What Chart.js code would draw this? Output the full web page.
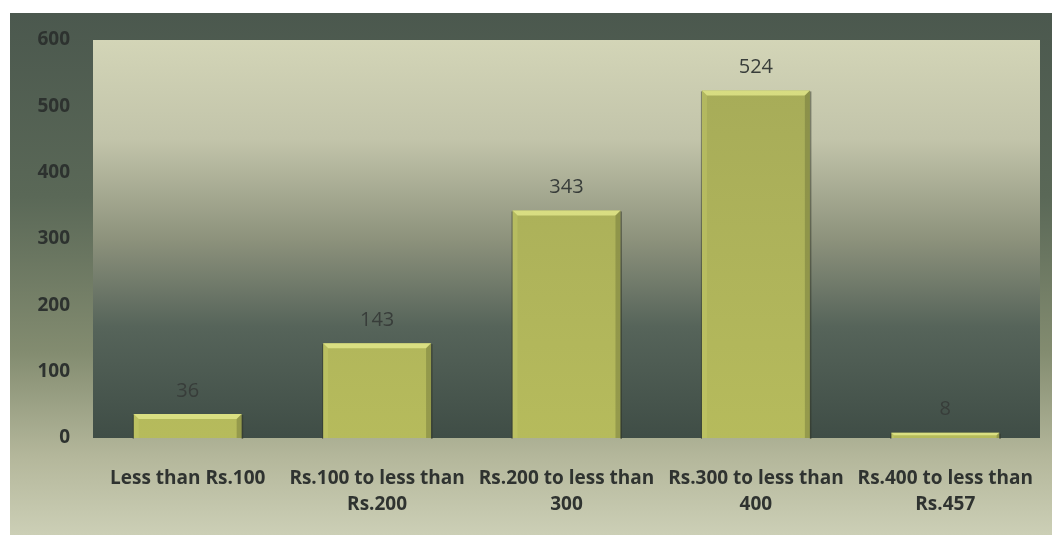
<!DOCTYPE html>
<html>
<head>
<meta charset="utf-8">
<title>Distribution by amount</title>
<script src="https://cdn.jsdelivr.net/npm/chart.js@4.4.1/dist/chart.umd.min.js"></script>
<style>
  html, body { margin: 0; padding: 0; background: #ffffff; }
  #wrap { width: 1052px; height: 535px; }
</style>
</head>
<body>
<div id="wrap"><canvas id="amountChart" width="1052" height="535"></canvas></div>
<script>
// categories and counts
const categories = [
    ['Less than Rs.100'],
    ['Rs.100 to less than', 'Rs.200'],
    ['Rs.200 to less than', '300'],
    ['Rs.300 to less than', '400'],
    ['Rs.400 to less than', 'Rs.457']
];
const counts = [36, 143, 343, 524, 8];
const yTicks = [0, 100, 200, 300, 400, 500, 600];

const FONT = '"Open Sans", Lato, sans-serif';

// backdrop: outer frame + plot area gradients
const backdrop = {
    id: 'backdrop',
    beforeDraw(chart) {
        const { ctx, chartArea: a, width, height } = chart;
        ctx.save();
        const fx = 10, fy = 13;
        const outer = ctx.createLinearGradient(0, fy, 0, height);
        outer.addColorStop(0, '#4b584e');
        outer.addColorStop(0.35, '#5a6857');
        outer.addColorStop(0.65, '#838c70');
        outer.addColorStop(0.85, '#b4b79b');
        outer.addColorStop(1, '#cccfb6');
        ctx.fillStyle = outer;
        ctx.fillRect(fx, fy, width - fx, height - fy);

        const inner = ctx.createLinearGradient(0, a.top, 0, a.bottom);
        inner.addColorStop(0, '#d3d5b7');
        inner.addColorStop(0.25, '#c2c4aa');
        inner.addColorStop(0.5, '#8d927c');
        inner.addColorStop(0.72, '#56645a');
        inner.addColorStop(1, '#3f4d46');
        ctx.fillStyle = inner;
        ctx.fillRect(a.left, a.top, a.right - a.left, a.bottom - a.top);
        ctx.restore();
    }
};

// bevel highlights on each bar and the value above it
const barDecor = {
    id: 'barDecor',
    afterDatasetsDraw(chart) {
        const { ctx } = chart;
        const meta = chart.getDatasetMeta(0);
        ctx.save();
        meta.data.forEach((bar, i) => {
            const l = bar.x - bar.width / 2, r = bar.x + bar.width / 2;
            const t = bar.y, b = bar.base;
            const h = b - t;
            const bev = Math.min(5, h / 2);
            // top bevel
            ctx.fillStyle = 'rgba(228, 232, 140, 0.8)';
            ctx.beginPath();
            ctx.moveTo(l, t); ctx.lineTo(r, t);
            ctx.lineTo(r - bev, t + bev); ctx.lineTo(l + bev, t + bev);
            ctx.closePath(); ctx.fill();
            // left bevel
            ctx.fillStyle = 'rgba(200, 205, 110, 0.35)';
            ctx.beginPath();
            ctx.moveTo(l, t); ctx.lineTo(l + bev, t + bev);
            ctx.lineTo(l + bev, b); ctx.lineTo(l, b);
            ctx.closePath(); ctx.fill();
            // right bevel
            ctx.fillStyle = 'rgba(90, 95, 45, 0.35)';
            ctx.beginPath();
            ctx.moveTo(r, t); ctx.lineTo(r - bev, t + bev);
            ctx.lineTo(r - bev, b); ctx.lineTo(r, b);
            ctx.closePath(); ctx.fill();
            // thin dark outline at the sides
            ctx.fillStyle = 'rgba(45, 50, 35, 0.5)';
            ctx.fillRect(r, t + 1, 1.5, h);
            ctx.fillRect(l - 1, t + 1, 1, h);

            ctx.fillStyle = '#383d3a';
            ctx.font = '20px ' + FONT;
            ctx.textAlign = 'center';
            ctx.textBaseline = 'bottom';
            ctx.fillText(String(counts[i]), bar.x, t - 13);
        });
        ctx.restore();
    }
};

const chart = new Chart(document.getElementById('amountChart'), {
    type: 'bar',
    data: {
        labels: categories,
        datasets: [{
            data: counts,
            backgroundColor: (c) => {
                const area = c.chart.chartArea;
                if (!area) return '#a9ae5c';
                const g = c.chart.ctx.createLinearGradient(0, area.top, 0, area.bottom);
                g.addColorStop(0, '#a5aa58');
                g.addColorStop(1, '#b6bb5c');
                return g;
            },
            borderWidth: 0,
            categoryPercentage: 0.57,
            barPercentage: 1.0
        }]
    },
    options: {
        responsive: false,
        devicePixelRatio: 1,
        animation: false,
        layout: { padding: { left: 10, top: 40, right: 12, bottom: 0 } },
        plugins: {
            legend: { display: false },
            tooltip: { enabled: false }
        },
        scales: {
            x: {
                grid: { display: false, drawTicks: false },
                border: { display: false },
                afterFit: (s) => {
                    s.height = 97;
                    // labels may run past the plot edge, don't shrink for them
                    s.paddingLeft = 0;
                    s.paddingRight = 0;
                },
                ticks: {
                    color: '#2f3330',
                    font: { family: FONT, size: 19, weight: 'bold', lineHeight: 1.37 },
                    padding: 28,
                    maxRotation: 0,
                    autoSkip: false
                }
            },
            y: {
                min: 0,
                max: 600,
                afterBuildTicks: (s) => { s.ticks = yTicks.map(v => ({ value: v })); },
                afterFit: (s) => { s.width = 83; },
                grid: { display: false, drawTicks: false },
                border: { display: false },
                ticks: {
                    color: '#2d322f',
                    font: { family: FONT, size: 19, weight: 'bold' },
                    padding: 23
                }
            }
        }
    },
    plugins: [backdrop, barDecor]
});
</script>
</body>
</html>
